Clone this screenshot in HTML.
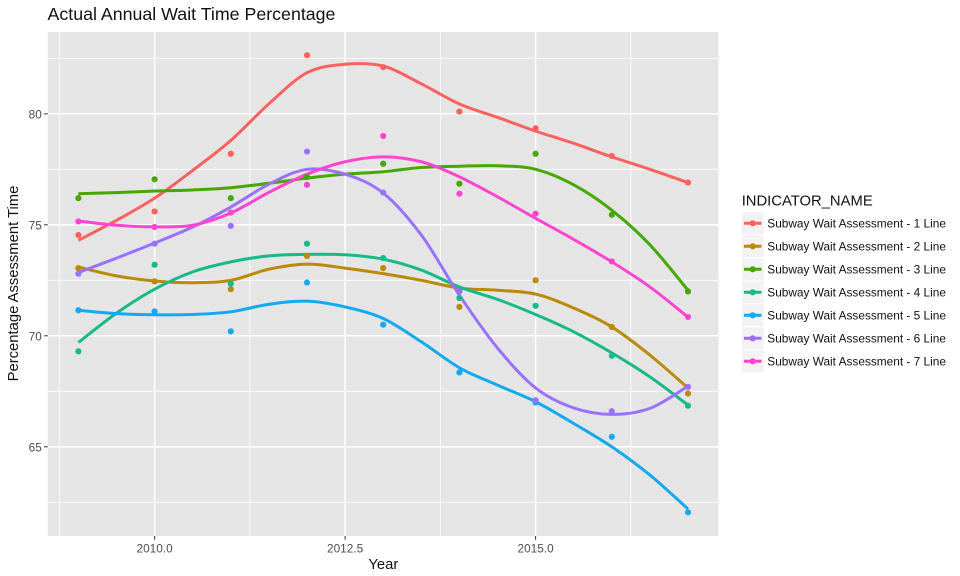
<!DOCTYPE html>
<html>
<head>
<meta charset="utf-8">
<title>Actual Annual Wait Time Percentage</title>
<style>
html,body{margin:0;padding:0;background:#fff;width:960px;height:576px;overflow:hidden}
svg{display:block;font-family:"Liberation Sans",Arial,sans-serif}
</style>
</head>
<body>
<svg id="chart" xmlns="http://www.w3.org/2000/svg" width="960" height="576" viewBox="0 0 960 576">
  <rect x="0" y="0" width="960" height="576" fill="#ffffff"/>
  <rect x="47.8" y="32" width="670.8" height="504" fill="#e5e5e5"/>
  <g id="grid"></g>
  <g id="ticks"></g>
  <g id="smooths"></g>
  <g id="points"></g>
  <text x="47.5" y="20" font-size="17.8" fill="#111">Actual Annual Wait Time Percentage</text>
  <text x="383.3" y="569" font-size="14.8" fill="#111" text-anchor="middle">Year</text>
  <text transform="translate(18,283.5) rotate(-90)" font-size="14.8" fill="#111" text-anchor="middle">Percentage Assessment Time</text>
  <text x="741.7" y="205.3" font-size="14.8" fill="#111">INDICATOR_NAME</text>
  <g id="legend"></g>
</svg>
<script>
var years = [2009, 2010, 2011, 2012, 2013, 2014, 2015, 2016, 2017];
var smoothYears = [2009, 2009.5, 2010, 2010.5, 2011, 2011.5, 2012, 2012.5, 2013, 2013.5, 2014, 2014.5, 2015, 2015.5, 2016, 2016.5, 2017];
var seriesNames = ["Subway Wait Assessment - 1 Line", "Subway Wait Assessment - 2 Line", "Subway Wait Assessment - 3 Line", "Subway Wait Assessment - 4 Line", "Subway Wait Assessment - 5 Line", "Subway Wait Assessment - 6 Line", "Subway Wait Assessment - 7 Line"];
var seriesColors = ["#f9625f", "#b98a05", "#45a700", "#17b98a", "#13a9ef", "#9a72ff", "#fc45d0"];

var points1 = [74.54, 75.6, 78.2, 82.64, 82.1, 80.1, 79.35, 78.1, 76.9];
var points2 = [73.05, 72.45, 72.1, 73.6, 73.05, 71.3, 72.5, 70.4, 67.4];
var points3 = [76.2, 77.05, 76.2, 77.15, 77.75, 76.85, 78.2, 75.45, 72.0];
var points4 = [69.3, 73.2, 72.35, 74.15, 73.5, 71.7, 71.35, 69.1, 66.85];
var points5 = [71.15, 71.1, 70.2, 72.4, 70.5, 68.35, 67.0, 65.45, 62.05];
var points6 = [72.8, 74.15, 74.95, 78.3, 76.45, 72.0, 67.1, 66.6, 67.7];
var points7 = [75.15, 74.9, 75.55, 76.8, 79.0, 76.4, 75.5, 73.35, 70.85];

var smooth1 = [74.3, 75.2, 76.2, 77.45, 78.8, 80.45, 81.85, 82.23, 82.15, 81.35, 80.44, 79.84, 79.22, 78.67, 78.06, 77.5, 76.9];
var smooth2 = [73.1, 72.7, 72.47, 72.39, 72.5, 73.0, 73.23, 73.05, 72.8, 72.5, 72.15, 72.05, 71.88, 71.25, 70.4, 69.13, 67.65];
var smooth3 = [76.4, 76.45, 76.52, 76.57, 76.67, 76.87, 77.1, 77.28, 77.39, 77.58, 77.64, 77.66, 77.5, 76.8, 75.66, 74.1, 72.05];
var smooth4 = [69.7, 71.02, 72.1, 72.88, 73.33, 73.6, 73.67, 73.65, 73.45, 72.96, 72.2, 71.64, 70.96, 70.18, 69.23, 68.15, 66.88];
var smooth5 = [71.15, 71.0, 70.95, 70.96, 71.08, 71.42, 71.56, 71.3, 70.78, 69.73, 68.56, 67.78, 67.03, 66.05, 65.0, 63.73, 62.2];
var smooth6 = [72.85, 73.5, 74.18, 74.9, 75.8, 76.83, 77.5, 77.28, 76.43, 74.54, 71.83, 69.45, 67.65, 66.75, 66.46, 66.73, 67.73];
var smooth7 = [75.17, 74.98, 74.91, 74.98, 75.53, 76.46, 77.28, 77.84, 78.06, 77.84, 77.16, 76.26, 75.29, 74.34, 73.33, 72.2, 70.84];

var xTickValues = [2010, 2012.5, 2015];
var xTickLabels = ["2010.0", "2012.5", "2015.0"];
var xMinorValues = [2008.75, 2011.25, 2013.75, 2016.25];
var yTickValues = [65, 70, 75, 80];
var yTickLabels = ["65", "70", "75", "80"];
var yMinorValues = [62.5, 67.5, 72.5, 77.5, 82.5];

var allPoints = [points1, points2, points3, points4, points5, points6, points7];
var allSmooths = [smooth1, smooth2, smooth3, smooth4, smooth5, smooth6, smooth7];

var SVGNS = "http://www.w3.org/2000/svg";
var PANEL = {left: 47.8, right: 718.6, top: 32, bottom: 536};

function xScale(v) { return 154.6 + (v - 2010) * 76.2; }
function yScale(v) { return 113.8 + (80 - v) * 22.2; }

function make(tag, attrs, parent) {
  var el = document.createElementNS(SVGNS, tag);
  for (var k in attrs) { el.setAttribute(k, attrs[k]); }
  parent.appendChild(el);
  return el;
}

function curvePath(xs, ys) {
  var px = xs.map(xScale), py = ys.map(yScale), d = "M" + px[0].toFixed(2) + "," + py[0].toFixed(2);
  for (var i = 0; i < px.length - 1; i++) {
    var i0 = Math.max(i - 1, 0), i3 = Math.min(i + 2, px.length - 1);
    var c1x = px[i] + (px[i + 1] - px[i0]) / 6, c1y = py[i] + (py[i + 1] - py[i0]) / 6;
    var c2x = px[i + 1] - (px[i3] - px[i]) / 6, c2y = py[i + 1] - (py[i3] - py[i]) / 6;
    d += "C" + c1x.toFixed(2) + "," + c1y.toFixed(2) + " " + c2x.toFixed(2) + "," + c2y.toFixed(2) + " " + px[i + 1].toFixed(2) + "," + py[i + 1].toFixed(2);
  }
  return d;
}

var grid = document.getElementById("grid");
var ticks = document.getElementById("ticks");
var chartSvg = document.getElementById("chart");

yMinorValues.forEach(function (v) {
  var el = make("line", {x1: PANEL.left, x2: PANEL.right, y1: yScale(v), y2: yScale(v), stroke: "#ffffff", "stroke-width": 0.8}, grid);
  
  
});
xMinorValues.forEach(function (v) {
  var el = make("line", {x1: xScale(v), x2: xScale(v), y1: PANEL.top, y2: PANEL.bottom, stroke: "#ffffff", "stroke-width": 0.8}, grid);
  
  
});
yTickValues.forEach(function (v, i) {
  var line = make("line", {x1: PANEL.left, x2: PANEL.right, y1: yScale(v), y2: yScale(v), stroke: "#ffffff", "stroke-width": 1.5}, grid);
  
  
  var tick = make("line", {x1: PANEL.left - 3.7, x2: PANEL.left, y1: yScale(v), y2: yScale(v), stroke: "#333333", "stroke-width": 1}, ticks);
  
  
  var label = make("text", {x: PANEL.left - 6, y: yScale(v) + 4.6, "text-anchor": "end", "font-size": 11.8, fill: "#4d4d4d"}, ticks);
  
  
  label.textContent = yTickLabels[i];
});
xTickValues.forEach(function (v, i) {
  var line = make("line", {x1: xScale(v), x2: xScale(v), y1: PANEL.top, y2: PANEL.bottom, stroke: "#ffffff", "stroke-width": 1.5}, grid);
  
  
  var tick = make("line", {x1: xScale(v), x2: xScale(v), y1: PANEL.bottom, y2: PANEL.bottom + 3.7, stroke: "#333333", "stroke-width": 1}, ticks);
  
  
  var label = make("text", {x: xScale(v), y: PANEL.bottom + 16.3, "text-anchor": "middle", "font-size": 11.8, fill: "#4d4d4d"}, ticks);
  
  
  label.textContent = xTickLabels[i];
});

var pointsGroup = document.getElementById("points");
allPoints.forEach(function (vals, s) {
  vals.forEach(function (v, i) {
    var c = make("circle", {cx: xScale(years[i]), cy: yScale(v), r: 3.1, fill: seriesColors[s]}, pointsGroup);
    
    
  });
});

var smoothGroup = document.getElementById("smooths");
allSmooths.forEach(function (vals, s) {
  var p = make("path", {d: curvePath(smoothYears, vals), fill: "none", stroke: seriesColors[s], "stroke-width": 3}, smoothGroup);
  
  
});
chartSvg.insertBefore(pointsGroup, null);
chartSvg.insertBefore(smoothGroup, pointsGroup);

var legend = document.getElementById("legend");
chartSvg.appendChild(legend);
seriesNames.forEach(function (name, s) {
  var top = 212.3 + s * 23;
  var key = make("rect", {x: 741.7, y: top, width: 22, height: 22, fill: "#f2f2f2"}, legend);
  
  
  var ln = make("line", {x1: 743.9, x2: 761.5, y1: top + 11, y2: top + 11, stroke: seriesColors[s], "stroke-width": 3}, legend);
  
  
  var dot = make("circle", {cx: 752.7, cy: top + 11, r: 3.1, fill: seriesColors[s]}, legend);
  
  
  var label = make("text", {x: 767.3, y: top + 15, "font-size": 11.85, fill: "#111"}, legend);
  
  
  label.textContent = name;
});
</script>
</body>
</html>
